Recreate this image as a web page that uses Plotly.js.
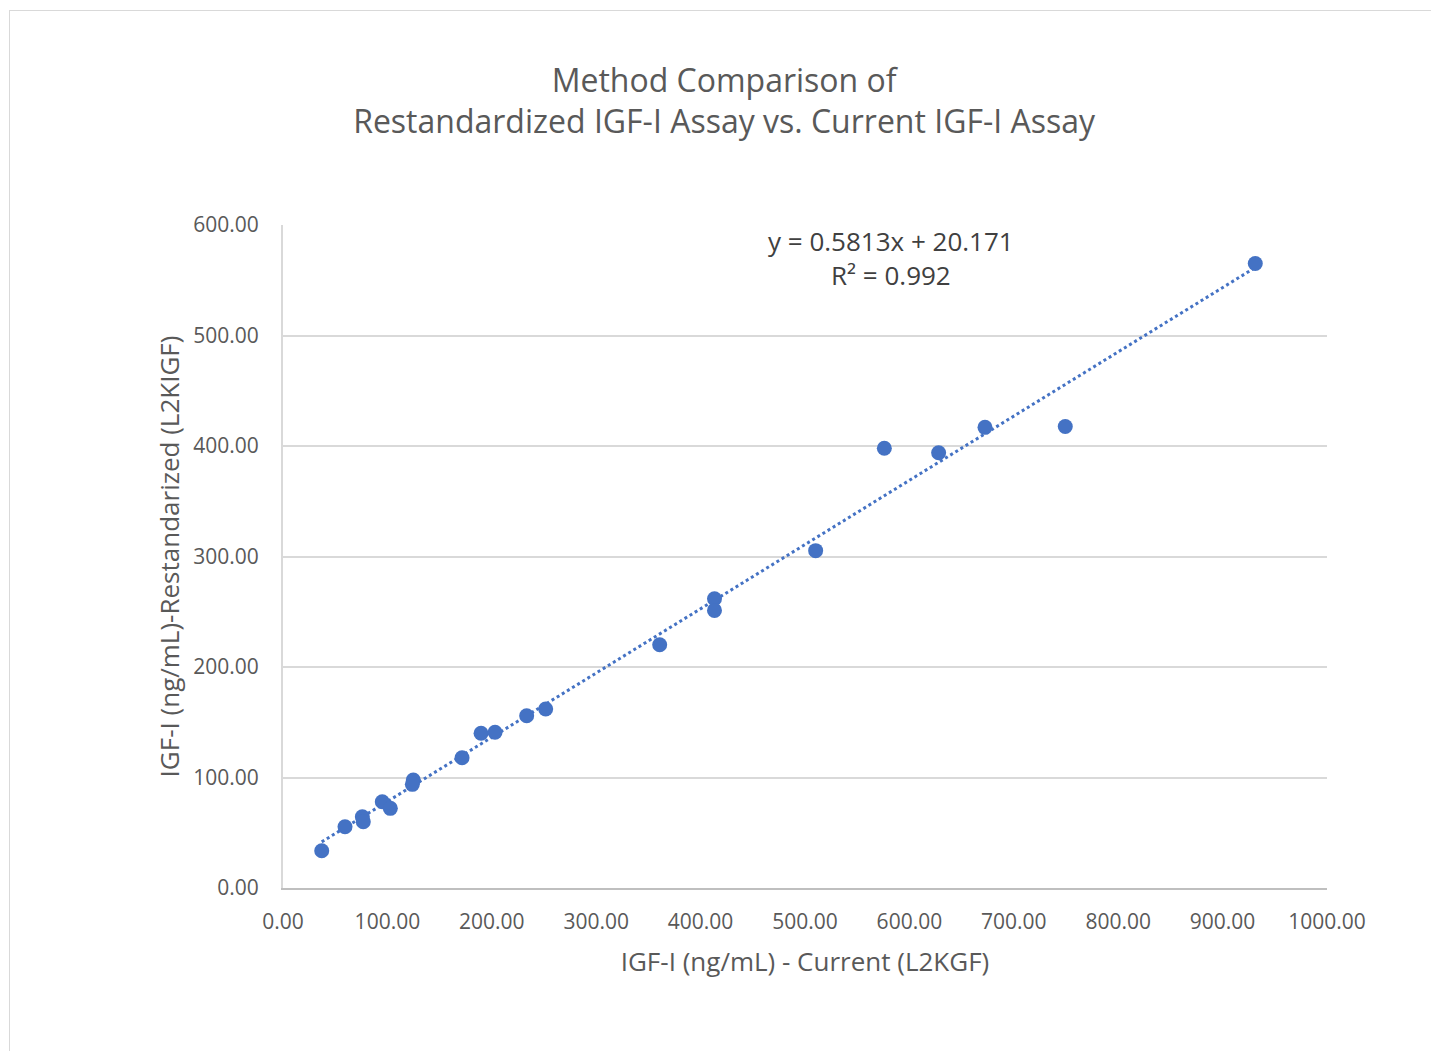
<!DOCTYPE html>
<html>
<head>
<meta charset="utf-8">
<script src="https://cdn.plot.ly/plotly-3.0.1.min.js"></script>
<style>
  html, body { margin: 0; padding: 0; background: #ffffff; overflow: hidden; }
  #frame { position: absolute; left: 9px; top: 10px; width: 1600px; height: 1200px; border: 1px solid #d9d9d9; box-sizing: border-box; }
  #chart { position: absolute; left: 0; top: 0; width: 1431px; height: 1051px; }
</style>
</head>
<body>
<div id="frame"></div>
<div id="chart"></div>
<script>
// Data
const currentIGF = [37.1, 59.4, 76.0, 76.9, 95.1, 102.8, 124.8, 123.9, 171.5, 189.7, 203.1, 233.4, 251.6,
                    360.8, 413.3, 413.3, 510.2, 576.0, 628.0, 672.4, 749.3, 931.3];
const restandardizedIGF = [33.7, 55.4, 64.5, 59.9, 78.1, 72.1, 97.7, 93.8, 117.9, 140.0, 140.9, 155.9, 162.0,
                           220.2, 261.8, 251.2, 305.3, 397.9, 393.9, 416.9, 417.7, 565.2];
const trendSlope = 0.5813;
const trendIntercept = 20.171;
const equationText = "y = 0.5813x + 20.171";
const r2Text = "R² = 0.992";

const xMin = Math.min(...currentIGF);
const xMax = Math.max(...currentIGF);
const trendX = [xMin, xMax];
const trendY = trendX.map(v => trendSlope * v + trendIntercept);

const font = "'Open Sans', 'Liberation Sans', sans-serif";
const blue = "#4472C4";

const traces = [
  {
    x: trendX, y: trendY, mode: "lines", type: "scatter",
    line: { color: blue, width: 3, dash: "dot" },
    hoverinfo: "skip", showlegend: false
  },
  {
    x: currentIGF, y: restandardizedIGF, mode: "markers", type: "scatter",
    marker: { color: blue, size: 15, line: { width: 0 } },
    showlegend: false
  }
];

const layout = {
  width: 1431, height: 1051,
  paper_bgcolor: "rgba(0,0,0,0)",
  plot_bgcolor: "#ffffff",
  margin: { l: 283, r: 104, t: 225, b: 163 },
  font: { family: font, color: "#595959" },
  title: {
    text: "Method Comparison of<br>Restandardized IGF-I Assay vs. Current IGF-I Assay",
    font: { family: font, size: 32, color: "#595959" },
    x: 0.506, xanchor: "center", xref: "container",
    y: 0.9126, yanchor: "middle", yref: "container"
  },
  xaxis: {
    range: [0, 1000], dtick: 100, tick0: 0, tickformat: ".2f",
    showgrid: false, zeroline: false,
    showline: true, linecolor: "#bfbfbf", linewidth: 2,
    ticks: "", ticklen: 0, ticklabelstandoff: 14,
    tickfont: { family: font, size: 21, color: "#595959" },
    title: { text: "IGF-I (ng/mL) - Current (L2KGF)", font: { family: font, size: 26, color: "#595959" }, standoff: 19 },
    automargin: false
  },
  yaxis: {
    range: [0, 600], dtick: 100, tick0: 0, tickformat: ".2f",
    showgrid: true, gridcolor: "#d9d9d9", gridwidth: 2,
    zeroline: false,
    showline: true, linecolor: "#d9d9d9", linewidth: 2,
    ticks: "", ticklen: 0, ticklabelstandoff: 18,
    tickfont: { family: font, size: 21, color: "#595959" },
    title: { text: "IGF-I (ng/mL)-Restandarized (L2KIGF)", font: { family: font, size: 26, color: "#595959" }, standoff: 6 },
    automargin: false
  },
  annotations: [
    {
      text: equationText + "<br>" + r2Text,
      xref: "paper", yref: "paper", x: 0.5824, y: 0.95,
      xanchor: "center", yanchor: "middle",
      showarrow: false, align: "center",
      font: { family: font, size: 26, color: "#404040" }
    }
  ]
};

Plotly.newPlot("chart", traces, layout, { displayModeBar: false, staticPlot: true });
</script>
</body>
</html>
